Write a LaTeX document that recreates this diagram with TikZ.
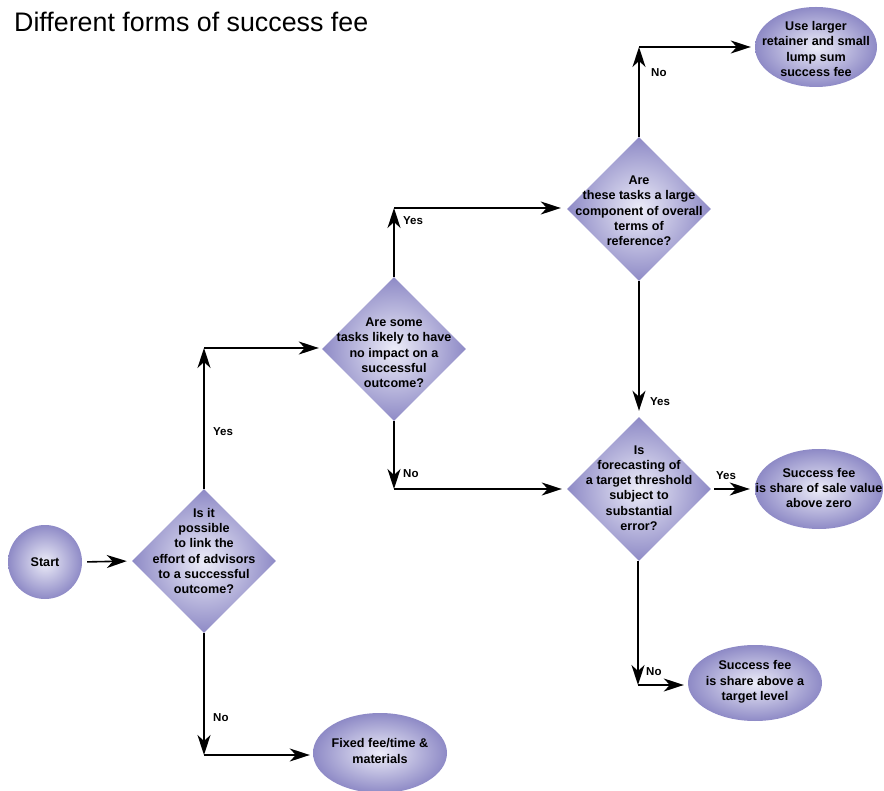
\documentclass[tikz,border=0pt]{standalone}
\usepackage{fontspec}
\setmainfont{Liberation Sans}
\usetikzlibrary{shapes.geometric,arrows.meta}
\definecolor{shin}{RGB}{236,236,248}
\definecolor{shout}{RGB}{142,138,198}
\begin{document}
\begin{tikzpicture}[x=1pt,y=-1pt,
  txt/.style={font=\bfseries\fontsize{12.6}{15.3}\selectfont, align=center, inner sep=0pt},
  dia/.style={diamond, shape aspect=1, minimum width=144pt, minimum height=144pt, inner sep=0pt, inner color=shin, outer color=shout},
  ell/.style={ellipse, inner sep=0pt, inner color=shin, outer color=shout},
  arr/.style={line width=1.6pt, -{Stealth[length=20pt,width=13pt,inset=6pt]}},
  lbl/.style={font=\bfseries\fontsize{11.5}{13}\selectfont, inner sep=0pt, anchor=west}
]
\useasboundingbox (0,0) rectangle (884,791);
% title
\node[anchor=base west, inner sep=0pt, font=\fontsize{26.8}{30}\selectfont] (title) at (14,32) {Different forms of success fee};

% shapes
\node[circle, minimum size=74pt, inner sep=0pt, inner color=shin, outer color=shout] (start) at (45,562) {};
\node[dia] (d1) at (204,561) {};
\node[dia] (d2) at (394,349) {};
\node[dia] (d3) at (639,209) {};
\node[dia] (d4) at (639,489) {};
\node[ell, minimum width=122pt, minimum height=80pt] (e1) at (816,47) {};
\node[ell, minimum width=128pt, minimum height=80pt] (e2) at (819,489) {};
\node[ell, minimum width=134pt, minimum height=76pt] (e3) at (755,683) {};
\node[ell, minimum width=134pt, minimum height=80pt] (e4) at (380,753) {};

% texts
\node[txt] (startt) at (45,562) {Start};
\node[txt] (d1t) at (204,551) {Is it\\possible\\to link the\\effort of advisors\\to a successful\\outcome?};
\node[txt] (d2t) at (394,353) {Are some\\tasks likely to have\\no impact on a\\successful\\outcome?};
\node[txt] (d3t) at (639,211) {Are\\these tasks a large\\component of overall\\terms of\\reference?};
\node[txt] (d4t) at (639,488) {Is\\forecasting of\\a target threshold\\subject to\\substantial\\error?};
\node[txt] (e1t) at (816,49) {Use larger\\retainer and small\\lump sum\\success fee};
\node[txt] (e2t) at (819,488) {Success fee\\is share of sale value\\above zero};
\node[txt] (e3t) at (755,682) {Success fee\\is share above a\\target level};
\node[txt] (e4t) at (380,751) {Fixed fee/time \&\\materials};

% corners
\coordinate (c1) at (204,348);
\coordinate (c2) at (204,755);
\coordinate (c3) at (394,208);
\coordinate (c4) at (394,489);
\coordinate (c5) at (639,47);
\coordinate (c6) at (638,685);

% connectors
\draw[arr, shorten <=5pt, shorten >=5pt] (start.east) -- (d1.west);
\draw[arr] (d1.north) -- (c1);
\draw[arr, shorten >=3pt] (c1) -- (d2.west |- c1);
\draw[arr] (d1.south) -- (c2);
\draw[arr, shorten >=3pt] (c2) -- (e4.west |- c2);
\draw[arr] (d2.north) -- (c3);
\draw[arr, shorten >=6pt] (c3) -- (d3.west |- c3);
\draw[arr] (d2.south) -- (c4);
\draw[arr, shorten >=5pt] (c4) -- (d4.west |- c4);
\draw[arr] (d3.north) -- (c5);
\draw[arr, shorten >=4pt] (c5) -- (e1.west |- c5);
\draw[arr, shorten >=6pt] (d3.south) -- (d4.north);
\draw[arr, shorten <=3pt, shorten >=5pt] (d4.east) -- (e2.west);
\draw[arr] (d4.south -| c6) -- (c6);
\draw[arr, shorten >=4pt] (c6) -- (e3.west |- c6);

% labels
\node[lbl] (l1) at (213,432) {Yes};
\node[lbl] (l2) at (403,221) {Yes};
\node[lbl] (l3) at (651,73) {No};
\node[lbl] (l4) at (650,402) {Yes};
\node[lbl] (l5) at (403,474) {No};
\node[lbl] (l6) at (716,476) {Yes};
\node[lbl] (l7) at (646,672) {No};
\node[lbl] (l8) at (213,718) {No};
\end{tikzpicture}
\end{document}
